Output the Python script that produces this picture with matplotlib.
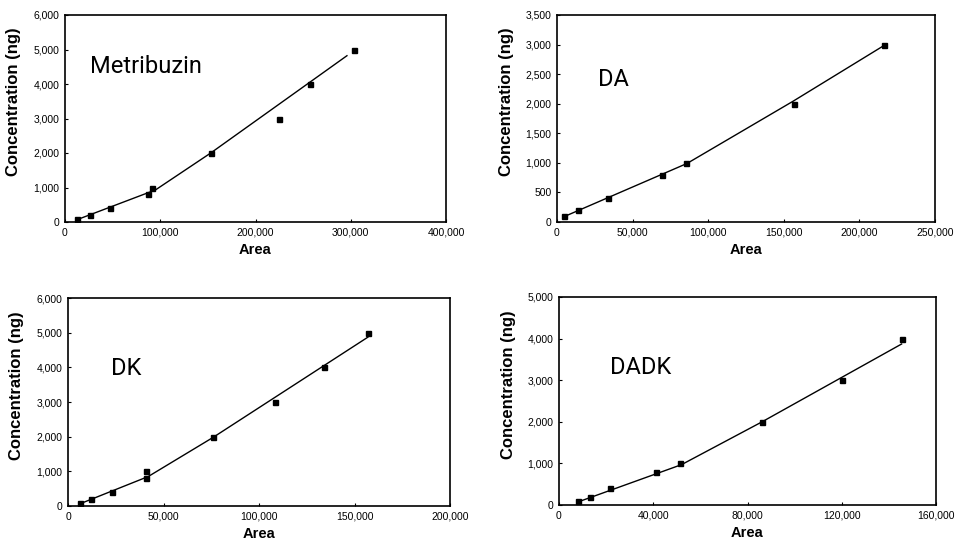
import matplotlib.pyplot as plt
from matplotlib.ticker import FuncFormatter

plt.rcParams['font.family'] = ['Liberation Sans', 'DejaVu Sans']

# Metribuzin
met_x = [12900, 26000, 47000, 86700, 91600, 153000, 225000, 257000, 303000]
met_y = [100, 200, 400, 800, 1000, 2000, 3000, 4000, 5000]
met_fit_x = [12900, 95000, 153000, 296000]
met_fit_y = [70, 930, 2000, 4820]

# DA
da_x = [4650, 14200, 34000, 69200, 85200, 156600, 216400]
da_y = [100, 200, 400, 800, 1000, 2000, 3000]
da_fit_x = [4650, 86000, 156000, 216000]
da_fit_y = [90, 990, 2040, 2980]

# DK
dk_x = [6100, 12300, 22800, 40700, 40900, 76000, 108400, 133900, 157000]
dk_y = [100, 200, 400, 800, 1000, 2000, 3000, 4000, 5000]
dk_fit_x = [6100, 42000, 76000, 157000]
dk_fit_y = [60, 850, 1980, 4870]

# DADK
dadk_x = [7900, 13200, 21500, 41300, 51500, 86200, 120000, 145400]
dadk_y = [100, 200, 400, 800, 1000, 2000, 3000, 4000]
dadk_fit_x = [7900, 52000, 86200, 145400]
dadk_fit_y = [70, 970, 2000, 3870]

panels = [
    ("Metribuzin", met_x, met_y, met_fit_x, met_fit_y, 400000, 100000, 6000, 1000,
     [65, 15, 446, 222], (0.066, 0.75)),
    ("DA", da_x, da_y, da_fit_x, da_fit_y, 250000, 50000, 3500, 500,
     [557, 15, 935, 222], (0.108, 0.69)),
    ("DK", dk_x, dk_y, dk_fit_x, dk_fit_y, 200000, 50000, 6000, 1000,
     [68, 298, 450, 506], (0.113, 0.66)),
    ("DADK", dadk_x, dadk_y, dadk_fit_x, dadk_fit_y, 160000, 40000, 5000, 1000,
     [559, 297, 936, 505], (0.135, 0.66)),
]

W, H = 959, 541
fig = plt.figure(figsize=(W / 100, H / 100), dpi=100)
fmt = FuncFormatter(lambda v, p: f"{int(v):,}")

for name, x, y, fx, fy, xmax, xstep, ymax, ystep, box, txt in panels:
    l, t, r, b = box
    ax = fig.add_axes([l / W, 1 - b / H, (r - l) / W, (b - t) / H])
    ax.plot(fx, fy, color='black', lw=1.0)
    ax.plot(x, y, 's', color='black', ms=3.6)
    ax.set_xlim(0, xmax)
    ax.set_ylim(0, ymax)
    ax.set_xticks(range(0, xmax + 1, xstep))
    ax.set_yticks(range(0, ymax + 1, ystep))
    ax.xaxis.set_major_formatter(fmt)
    ax.yaxis.set_major_formatter(fmt)
    ax.tick_params(direction='in', length=2, width=0.8, labelsize=7.5, pad=4)
    for s in ax.spines.values():
        s.set_linewidth(1.2)
    ax.set_xlabel("Area", fontsize=10.5, fontweight='bold', labelpad=4)
    ax.set_ylabel("Concentration (ng)", fontsize=12, fontweight='bold')
    ax.yaxis.set_label_coords(-0.115, 0.58)
    ax.text(txt[0], txt[1], name, transform=ax.transAxes, fontsize=17,
            family=['Roboto', 'Liberation Sans'],
            va='center', ha='left')

fig.savefig("out.png", dpi=100)
